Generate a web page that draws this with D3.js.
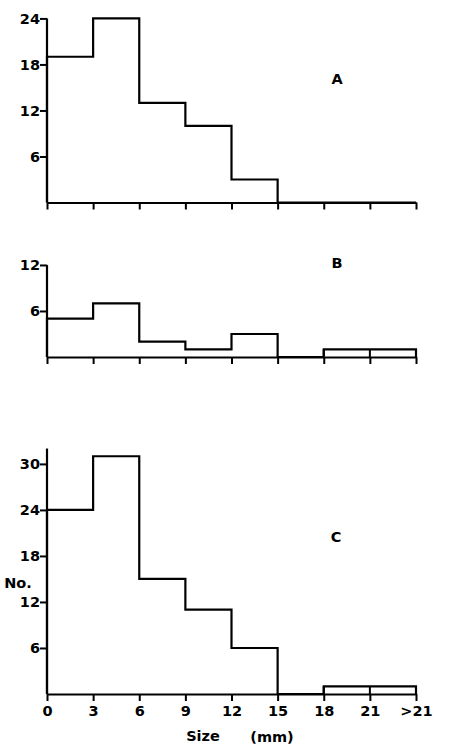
<!DOCTYPE html>
<html><head><meta charset="utf-8">
<script src="https://cdn.jsdelivr.net/npm/d3@7"></script>
<style>
body{margin:0;background:#fff;}
text{font-family:"DejaVu Sans",sans-serif;font-weight:bold;fill:#000;}
</style></head>
<body><svg id="c" width="468" height="756"></svg>
<script>
// bin starts (mm); last bin is ">21"
const binStarts = [0, 3, 6, 9, 12, 15, 18, 21];
const xTickValues = [0, 3, 6, 9, 12, 15, 18, 21, 24];
const xTickLabels = ["0", "3", "6", "9", "12", "15", "18", "21", ">21"];
const countsA = [19, 24, 13, 10, 3, 0, 0, 0];
const countsB = [5, 7, 2, 1, 3, 0, 1, 1];
const countsC = [24, 31, 15, 11, 6, 0, 1, 1];
const yTicksA = [6, 12, 18, 24];
const yTicksB = [6, 12];
const yTicksC = [6, 12, 18, 24, 30];
const panelLabels = ["A", "B", "C"];

const svg = d3.select("#c");
const x = d3.scaleLinear().domain([0, 24]).range([47, 416]);
const binW = 3;
const fs = "14.5px";

const panels = [
  {counts: countsA, ticks: yTicksA, ymax: 24, base: 202.5, label: panelLabels[0], lx: 337, ly: 84, showX: false},
  {counts: countsB, ticks: yTicksB, ymax: 12, base: 357, label: panelLabels[1], lx: 337, ly: 268, showX: false},
  {counts: countsC, ticks: yTicksC, ymax: 32, base: 694, label: panelLabels[2], lx: 336, ly: 542, showX: true}
];
const pxPerUnit = 7.67;

panels.forEach(p => {
  const y = d3.scaleLinear().domain([0, p.ymax]).range([p.base, p.base - p.ymax * pxPerUnit]);
  const g = svg.append("g");
  const ya = d3.axisLeft(y).tickValues(p.ticks).tickSize(7).tickSizeOuter(0).tickPadding(0);
  const yg = g.append("g").attr("transform", `translate(${x(0)},0)`).call(ya);
  yg.select(".domain").attr("stroke", "#000").attr("stroke-width", 2.2)
    .attr("d", `M0,${y(0)}V${y(p.ymax)}`);
  yg.selectAll(".tick line").attr("stroke", "#000").attr("stroke-width", 2);
  yg.selectAll(".tick text").style("font-size", fs).attr("font-family", null);
  const xa = d3.axisBottom(x).tickValues(xTickValues).tickSize(7).tickSizeOuter(0)
    .tickPadding(5).tickFormat((d, i) => p.showX ? xTickLabels[i] : "");
  const xg = g.append("g").attr("transform", `translate(0,${p.base})`).call(xa);
  xg.select(".domain").attr("stroke", "#000").attr("stroke-width", 2.2);
  xg.selectAll(".tick line").attr("stroke", "#000").attr("stroke-width", 2);
  xg.selectAll(".tick text").style("font-size", fs).attr("font-family", null);
  const pts = [[0, 0]];
  binStarts.forEach((b, i) => pts.push([b, p.counts[i]]));
  pts.push([binStarts[binStarts.length - 1] + binW, p.counts[p.counts.length - 1]]);
  pts.push([binStarts[binStarts.length - 1] + binW, 0]);
  const line = d3.line().x(d => x(d[0])).y(d => y(d[1])).curve(d3.curveStepAfter);
  g.append("path").attr("d", line(pts)).attr("fill", "none").attr("stroke", "#000")
    .attr("stroke-width", 2.2).attr("stroke-linejoin", "miter");
  binStarts.forEach((b, i) => {
    if (i > 0 && p.counts[i] > 0 && (p.counts[i] === p.counts[i - 1] || p.counts[i - 1] === 0)) {
      g.append("line").attr("x1", x(b)).attr("x2", x(b)).attr("y1", y(0)).attr("y2", y(p.counts[i]))
        .attr("stroke", "#000").attr("stroke-width", 2);
    }
  });
  g.append("text").attr("x", p.lx).attr("y", p.ly).attr("text-anchor", "middle")
    .style("font-size", fs).text(p.label);
});

svg.append("text").attr("x", 18).attr("y", 588).attr("text-anchor", "middle").style("font-size", fs).text("No.");
svg.append("text").attr("x", 203).attr("y", 741).attr("text-anchor", "middle").style("font-size", fs).text("Size");
svg.append("text").attr("x", 272).attr("y", 742).attr("text-anchor", "middle").style("font-size", fs).text("(mm)");
</script></body></html>
